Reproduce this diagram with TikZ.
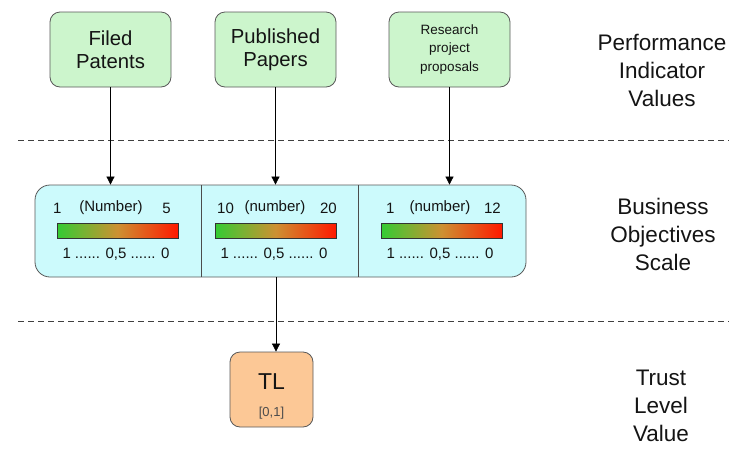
\documentclass[tikz,border=0pt]{standalone}
\usepackage{fontspec}
\setmainfont{Liberation Sans}
\usetikzlibrary{arrows.meta}
\definecolor{pigreen}{RGB}{204,245,204}
\definecolor{sccyan}{RGB}{204,250,252}
\definecolor{tlorange}{RGB}{252,200,150}
\definecolor{gL}{RGB}{51,204,51}
\definecolor{gM}{RGB}{205,145,50}
\definecolor{gR}{RGB}{255,25,0}
\definecolor{txt}{RGB}{20,20,20}
\begin{document}
\begin{tikzpicture}[x=1pt,y=-1pt,
  every node/.style={text=txt},
  pibox/.style={draw=black!65, fill=pigreen, rounded corners=10pt, minimum width=121pt, minimum height=75pt, align=center, inner sep=0pt, line width=0.8pt},
  big/.style={font=\fontsize{20.3}{23.5}\selectfont},
  small/.style={font=\fontsize{13.5}{18.5}\selectfont},
  scbox/.style={draw=black!65, fill=sccyan, rounded corners=15pt, minimum width=491pt, minimum height=92pt, inner sep=0pt, line width=0.8pt},
  bar/.style={draw=black!80, left color=gL, right color=gR, middle color=gM, minimum width=121pt, minimum height=15pt, inner sep=0pt, line width=0.6pt},
  sctext/.style={font=\fontsize{15}{17}\selectfont, inner sep=0pt},
  tlbox/.style={draw=black!65, fill=tlorange, rounded corners=10pt, minimum width=83pt, minimum height=75pt, inner sep=0pt, line width=0.8pt},
  side/.style={font=\fontsize{22.5}{28}\selectfont, align=center},
  arr/.style={-{Triangle[length=8pt,width=8pt]}, line width=0.7pt, black},
  divline/.style={black!70, line width=0.8pt},
  sep/.style={black!75, line width=0.8pt, dash pattern=on 6pt off 4pt}
]
\useasboundingbox (0,0) rectangle (729,448);

% top indicator boxes
\node[pibox, big] (fp) at (110.5,49.5) {Filed\\Patents};
\node[pibox, big] (pp) at (275.5,49.5) {Published\\Papers};
\node[pibox, small] (rp) at (449.5,49.5) {Research\\project\\proposals};

% separators
\coordinate (s1a) at (18,140); \coordinate (s1b) at (729,140);
\coordinate (s2a) at (18,321); \coordinate (s2b) at (729,321);
\draw[sep] (s1a) -- (s1b);
\draw[sep] (s2a) -- (s2b);

% scale box
\node[scbox] (scale) at (280.5,231) {};
\coordinate (d1) at (201,185);
\coordinate (d2) at (358,185);
\draw[divline] (d1) -- (d1 |- scale.south);
\draw[divline] (d2) -- (d2 |- scale.south);

% bars
\node[bar] (b1) at (117.5,230.5) {};
\node[bar] (b2) at (275.5,230.5) {};
\node[bar] (b3) at (441.5,230.5) {};

% scale texts
\node[sctext, anchor=west] (t1a) at (53,208) {1};
\node[sctext] (t1b) at (111,208) {(Number)};
\node[sctext, anchor=east] (t1c) at (171,208) {5};
\node[sctext, anchor=west] (t2a) at (217,208) {10};
\node[sctext] (t2b) at (275,208) {(number)};
\node[sctext, anchor=east] (t2c) at (337,208) {20};
\node[sctext, anchor=west] (t3a) at (386,208) {1};
\node[sctext] (t3b) at (440,208) {(number)};
\node[sctext, anchor=east] (t3c) at (501,208) {12};

\node[sctext] (u1) at (116,254) {1 ...... 0,5 ...... 0};
\node[sctext] (u2) at (274,254) {1 ...... 0,5 ...... 0};
\node[sctext] (u3) at (440,254) {1 ...... 0,5 ...... 0};

% TL box
\node[tlbox] (tl) at (271.5,389.5) {};
\node[font=\fontsize{23}{25}\selectfont] (tlt) at (271.5,382) {TL};
\node[font=\fontsize{13}{15}\selectfont, text=black!70] (tlr) at (271.5,413) {[0,1]};

% arrows
\draw[arr] (fp.south) -- (fp.south |- scale.north);
\draw[arr] (pp.south) -- (pp.south |- scale.north);
\draw[arr] (rp.south) -- (rp.south |- scale.north);
\coordinate (sb) at (276,277);
\draw[arr] (sb) -- (sb |- tl.north);

% side labels
\node[side] (l1) at (662,70) {Performance\\Indicator\\Values};
\node[side] (l2) at (663,234) {Business\\Objectives\\Scale};
\node[side] (l3) at (661,406) {Trust\\Level\\Value};
\end{tikzpicture}
\end{document}
